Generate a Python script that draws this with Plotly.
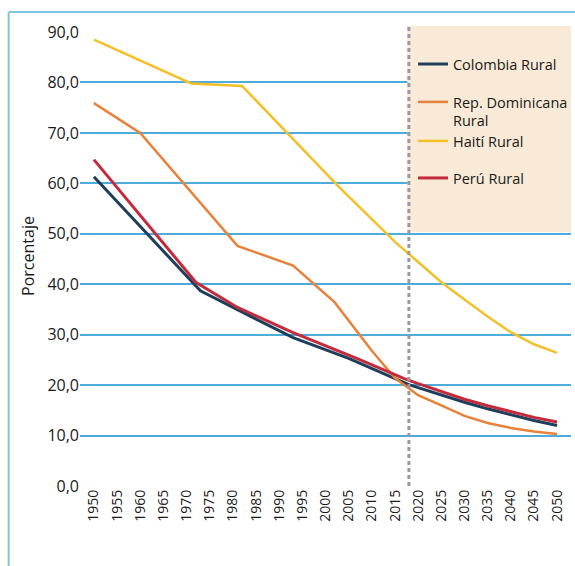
import plotly.graph_objects as go

# ---- data ----
col_years = [1950, 1973, 1985, 1993, 2005, 2018, 2020, 2025, 2030, 2035, 2040, 2045, 2050]
col_vals = [61.3, 38.7, 33.1, 29.4, 25.3, 20.1, 19.5, 18.0, 16.6, 15.3, 14.1, 13.0, 12.0]

dom_years = [1950, 1960, 1981, 1993, 2002, 2010, 2015, 2020, 2025, 2030, 2035, 2040, 2045, 2050]
dom_vals = [75.9, 70.0, 47.6, 43.7, 36.4, 26.8, 21.4, 18.0, 16.0, 13.9, 12.5, 11.5, 10.8, 10.3]

hai_years = [1950, 1971, 1982, 2003, 2010, 2015, 2020, 2025, 2030, 2035, 2040, 2045, 2050]
hai_vals = [88.5, 79.8, 79.3, 59.2, 52.9, 48.4, 44.4, 40.4, 37.0, 33.6, 30.5, 28.1, 26.4]

per_years = [1950, 1972, 1981, 1993, 2007, 2017, 2020, 2025, 2030, 2035, 2040, 2045, 2050]
per_vals = [64.7, 40.4, 35.4, 30.4, 25.2, 21.3, 20.3, 18.7, 17.2, 15.9, 14.7, 13.6, 12.7]

series_names = ["Colombia Rural", "Rep. Dominicana<br>Rural", "Haití Rural", "Perú Rural"]
series_colors = ["#1e3f5c", "#e8823a", "#f4c02a", "#c32a3b"]

x_ticks = list(range(1950, 2051, 5))
y_grid = list(range(0, 81, 10))
y_ticks = list(range(0, 91, 10))
y_ticktext = [f"{v},0" for v in y_ticks]
cut_year = 2018

FONT = "Open Sans"
GRID = "#4fabd9"
FRAME = "#7fc4e1"

fig = go.Figure()
data = [(col_years, col_vals, 3), (dom_years, dom_vals, 2.5), (hai_years, hai_vals, 2.5), (per_years, per_vals, 3)]
legend_ids = ["legend", "legend2", "legend3", "legend4"]
for (xs, ys, w), name, color, lg in zip(data, series_names, series_colors, legend_ids):
    fig.add_trace(go.Scatter(x=xs, y=ys, mode="lines", name=name, legend=lg,
                             line=dict(color=color, width=w), hoverinfo="skip"))

# plot area: left 80, right 572, top 26, bottom 486
fig.update_layout(
    width=575, height=566,
    margin=dict(l=80, r=3, t=26, b=80),
    paper_bgcolor="white", plot_bgcolor="white",
    font=dict(family=FONT, color="#1a1a1a"),
    xaxis=dict(range=[1947, 2053], tickvals=x_ticks, tickangle=-90, showgrid=False,
               zeroline=False, showline=False, ticks="", tickfont=dict(size=14)),
    yaxis=dict(range=[0, 91.2], tickvals=y_grid, showticklabels=False, showgrid=True,
               gridcolor=GRID, gridwidth=1.5, zeroline=False, showline=False, ticks=""),
    yaxis2=dict(range=[0, 91.2], overlaying="y", side="left", tickvals=y_ticks, ticktext=y_ticktext,
                showgrid=False, zeroline=False, showline=False, ticks="", tickfont=dict(size=16),
                title=dict(text="Porcentaje", font=dict(size=16), standoff=8)),
    showlegend=True,
)

leg_common = dict(x=0.6768, xanchor="left", yanchor="top", bgcolor="rgba(0,0,0,0)",
                  font=dict(size=14.5, family=FONT, color="#1a1a1a"), valign="top")
fig.update_layout(
    legend=dict(y=0.952, **leg_common),
    legend2=dict(y=0.8696, **leg_common),
    legend3=dict(y=0.7848, **leg_common),
    legend4=dict(y=0.7043, **leg_common),
)

# dummy trace on yaxis2 so it is displayed
fig.add_trace(go.Scatter(x=[None], y=[None], yaxis="y2", showlegend=False, hoverinfo="skip"))

# beige legend box, projection divider and outer frame
fig.add_shape(type="rect", xref="paper", yref="paper", x0=0.6667, x1=1.0, y0=0.552, y1=1.0,
              fillcolor="#f8ead7", line=dict(width=0), layer="above")
fig.add_shape(type="line", xref="x", yref="y", x0=cut_year, x1=cut_year, y0=0, y1=91.2,
              line=dict(color="#9a9a9a", width=3, dash="4px,3px"), layer="above")
fig.add_shape(type="line", xref="paper", yref="paper", x0=-0.1453, x1=1.05, y0=1.0304, y1=1.0304,
              line=dict(color=FRAME, width=2))
fig.add_shape(type="line", xref="paper", yref="paper", x0=-0.1453, x1=-0.1453, y0=-0.2, y1=1.0304,
              line=dict(color=FRAME, width=2))

fig.write_html("out.html", config={"displayModeBar": False},
               post_script="document.body.style.margin='0';document.body.style.padding='0';")
